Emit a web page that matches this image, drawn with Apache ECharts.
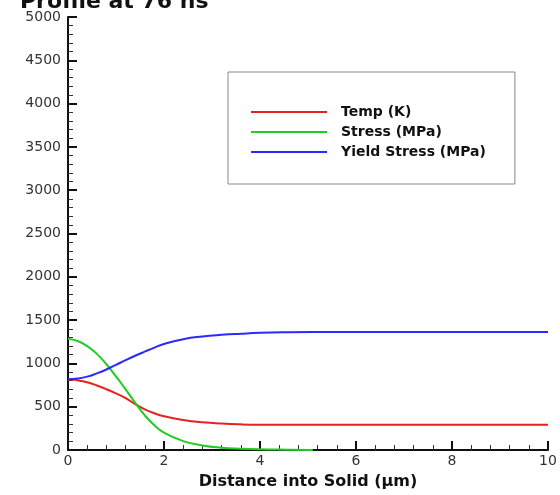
<!DOCTYPE html>
<html lang="en">
<head>
    <meta charset="UTF-8">
    <title>Profile</title>
    <script type="text/javascript" src="https://cdn.jsdelivr.net/npm/echarts@6/dist/echarts.min.js"></script>
</head>
<body style="margin:0;background:#fff">
<div id="main" style="width:560px;height:495px"></div>
<script type="text/javascript">
    // distance into solid (um)
    var dist = [0, 0.2, 0.4, 0.6, 0.8, 1.0, 1.2, 1.4, 1.6, 1.8, 2.0, 2.4, 2.8, 3.2, 3.6, 4.0, 4.6, 5.1, 6, 7, 8, 9, 10];
    var temp = [816, 805, 782, 745, 702, 653, 599, 530, 470, 424, 390, 347, 320, 305, 296, 292, 291, 291, 292, 292, 292, 292, 292];
    var stress = [1285, 1258, 1200, 1110, 990, 850, 700, 545, 400, 285, 200, 103, 53, 27, 15, 8, 3, 0];
    var yieldStress = [816, 825, 847, 885, 930, 983, 1037, 1088, 1136, 1182, 1224, 1280, 1311, 1330, 1343, 1353, 1360, 1362, 1362, 1362, 1362, 1362, 1362];

    function pairs(ys) {
        return ys.map(function (v, i) { return [dist[i], v]; });
    }

    var chart = echarts.init(document.getElementById('main'));
    var font = '"DejaVu Sans", Arial, sans-serif';

    chart.setOption({
        animation: false,
        title: {
            text: 'Profile at 76 ns',
            left: 15,
            top: -14,
            textStyle: {fontFamily: font, fontSize: 22, fontWeight: 'bold', color: '#111'}
        },
        legend: {
            orient: 'vertical',
            left: 228,
            top: 72,
            padding: [33, 29, 25, 23],
            borderColor: '#888',
            borderWidth: 1,
            itemWidth: 76,
            itemHeight: 13,
            itemGap: 6,
            icon: 'path://M0,5.5 L76,5.5 L76,7.5 L0,7.5 Z',
            textStyle: {fontFamily: font, fontSize: 14, fontWeight: 'bold', color: '#111', padding: [0, 0, 0, 9]},
            data: ['Temp (K)', 'Stress (MPa)', 'Yield Stress (MPa)']
        },
        grid: {left: 68, right: 12, top: 17, bottom: 41},
        xAxis: {
            type: 'value',
            min: 0,
            max: 10,
            interval: 2,
            name: 'Distance into Solid (\u03bcm)',
            nameLocation: 'middle',
            nameGap: 24,
            nameTextStyle: {fontFamily: font, fontSize: 16, fontWeight: 'bold', color: '#111'},
            axisLine: {lineStyle: {color: '#111', width: 2}},
            axisTick: {inside: true, length: 9, lineStyle: {color: '#111', width: 2}},
            minorTick: {show: true, splitNumber: 5, length: 5, lineStyle: {color: '#333', width: 1}},
            axisLabel: {fontFamily: font, fontSize: 14, color: '#333', margin: 4},
            splitLine: {show: false}
        },
        yAxis: {
            type: 'value',
            min: 0,
            max: 5000,
            interval: 500,
            axisLine: {show: true, lineStyle: {color: '#111', width: 2}},
            axisTick: {show: true, inside: true, length: 9, lineStyle: {color: '#111', width: 2}},
            minorTick: {show: true, splitNumber: 5, length: 5, lineStyle: {color: '#333', width: 1}},
            axisLabel: {fontFamily: font, fontSize: 14, color: '#333', margin: 7, formatter: function (v) { return String(v); }},
            splitLine: {show: false}
        },
        series: [
            {
                name: 'Temp (K)',
                type: 'line',
                smooth: 0.5,
                showSymbol: false,
                color: '#e82020',
                lineStyle: {width: 2},
                data: pairs(temp)
            },
            {
                name: 'Stress (MPa)',
                type: 'line',
                smooth: 0.5,
                showSymbol: false,
                color: '#22cc22',
                lineStyle: {width: 2},
                data: pairs(stress)
            },
            {
                name: 'Yield Stress (MPa)',
                type: 'line',
                smooth: 0.5,
                showSymbol: false,
                color: '#2a2aff',
                lineStyle: {width: 2},
                data: pairs(yieldStress)
            }
        ]
    });
</script>
</body>
</html>
